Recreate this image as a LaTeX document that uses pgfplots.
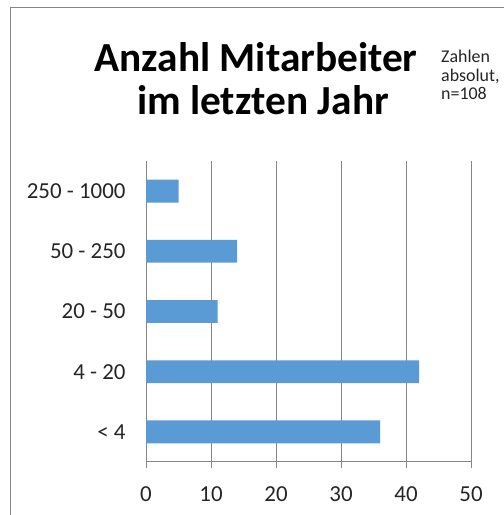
\documentclass[border=0pt]{standalone}
\usepackage{pgfplots}
\pgfplotsset{compat=1.18}
\usepackage{fontspec}
\setmainfont{Carlito}
\definecolor{barblue}{RGB}{91,155,213}
\definecolor{gridgray}{RGB}{134,134,134}
\begin{document}
\begin{tikzpicture}[x=1bp,y=1bp]
\useasboundingbox (0,0) rectangle (504,515);
\clip (0,0) rectangle (504,515);
\fill[white] (0,0) rectangle (504,515);
\draw[gridgray, line width=1bp] (10.5,-5) -- (10.5,507) -- (520,507);
\node[font=\fontsize{41.5}{43.5}\selectfont\bfseries, anchor=base] at (256,443) {Anzahl Mitarbeiter};
\node[font=\fontsize{41.5}{43.5}\selectfont\bfseries, anchor=base] at (263,400) {im letzten Jahr};
\node[font=\fontsize{18}{19}\selectfont, align=left, anchor=base west, inner sep=0pt, text=black!85] at (441,415) {Zahlen\\absolut,\\n=108};
\begin{axis}[
  at={(146bp,53bp)}, anchor=south west,
  scale only axis, width=325bp, height=301bp,
  xmin=0, xmax=50, ymin=-0.5, ymax=4.5,
  xbar, bar width=0.38,
  axis x line*=bottom, axis y line*=left,
  axis line style={gridgray, line width=1bp, -},
  xtick={0,10,...,50},
  xmajorgrids, major grid style={gridgray, line width=1bp},
  tick align=outside, major tick length=6bp,
  x tick style={gridgray, line width=1bp},
  ytick={0,...,4},
  yticklabels={< 4, 4 - 20, 20 - 50, 50 - 250, 250 - 1000},
  y tick style={draw=none},
  extra y ticks={-0.5,0.5,...,4.5},
  extra y tick labels={},
  extra y tick style={tick style={gridgray, line width=1bp, draw=gridgray}, major tick length=6bp, grid=none},
  ticklabel style={font=\fontsize{23}{27}\selectfont, text=black!85},
  /pgf/number format/assume math mode=true,
  yticklabel style={xshift=-11bp},
  xticklabel style={yshift=-15bp},
]
\addplot[fill=barblue, draw=none] coordinates {(36,0) (42,1) (11,2) (14,3) (5,4)};
\end{axis}
\end{tikzpicture}
\end{document}
